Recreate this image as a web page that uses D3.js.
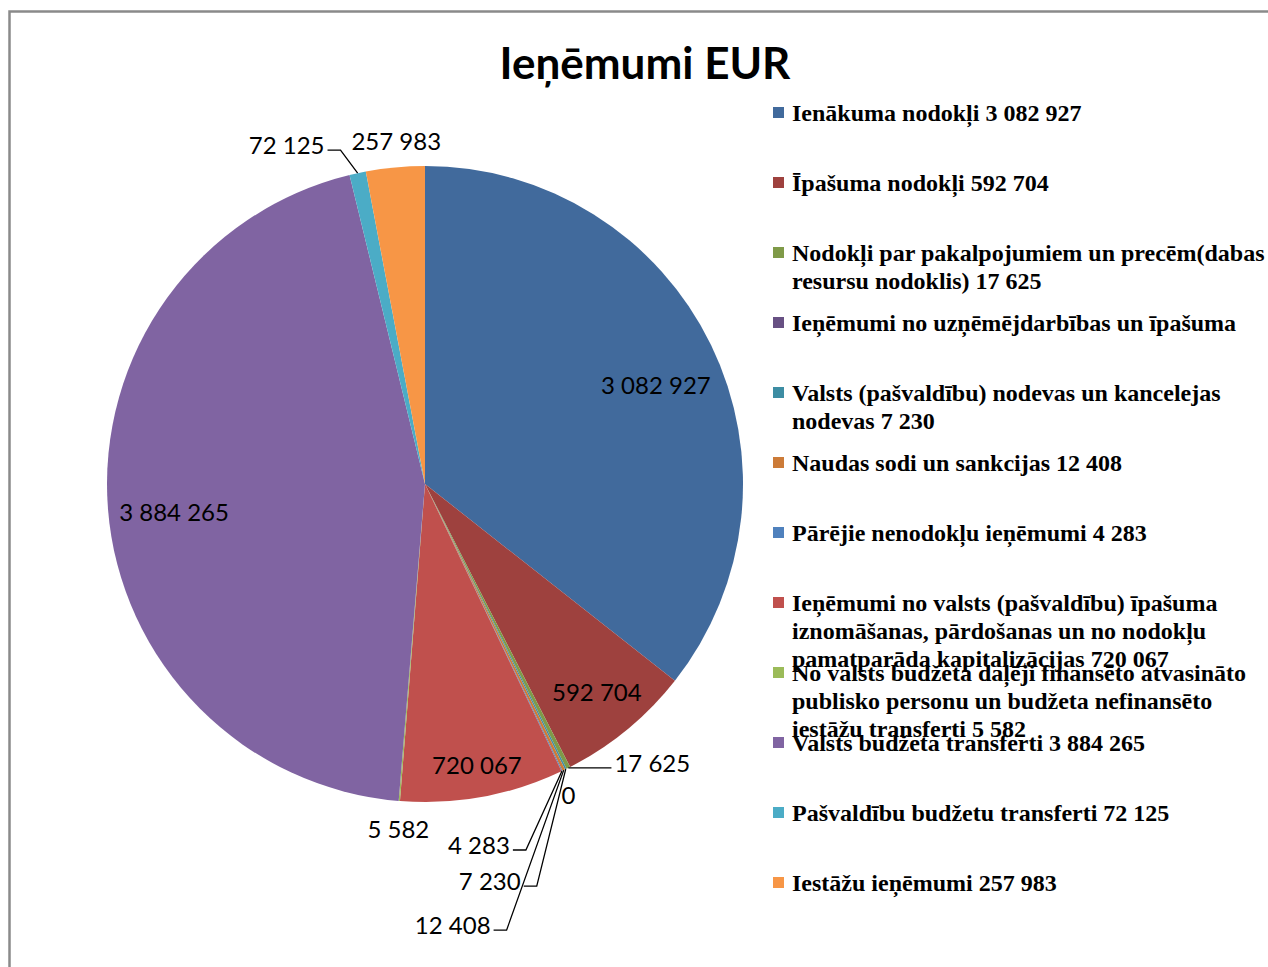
<!DOCTYPE html>
<html>
<head>
<meta charset="utf-8">
<script src="https://cdn.jsdelivr.net/npm/d3@7"></script>
<style>
  html, body { margin: 0; padding: 0; background: #fff; overflow: hidden; }
  svg { display: block; }
</style>
</head>
<body>
<svg id="chart" width="1268" height="967"></svg>
<script>
// ---- DATA ----
const title = "Ieņēmumi EUR";
const categories = [
  "Ienākuma nodokļi",
  "Īpašuma nodokļi",
  "Nodokļi par pakalpojumiem un precēm(dabas resursu nodoklis)",
  "Ieņēmumi no uzņēmējdarbības un īpašuma",
  "Valsts (pašvaldību) nodevas un kancelejas nodevas",
  "Naudas sodi un sankcijas",
  "Pārējie nenodokļu ieņēmumi",
  "Ieņēmumi no valsts (pašvaldību) īpašuma iznomāšanas, pārdošanas un no nodokļu pamatparāda kapitalizācijas",
  "No valsts budžeta daļēji finansēto atvasināto publisko personu un budžeta nefinansēto iestāžu transferti",
  "Valsts budžeta transferti",
  "Pašvaldību budžetu transferti",
  "Iestāžu ieņēmumi"
];
const values = [3082927, 592704, 17625, 0, 7230, 12408, 4283, 720067, 5582, 3884265, 72125, 257983];
const legendLines = [
  ["Ienākuma nodokļi 3 082 927"],
  ["Īpašuma nodokļi 592 704"],
  ["Nodokļi par pakalpojumiem un precēm(dabas", "resursu nodoklis) 17 625"],
  ["Ieņēmumi no uzņēmējdarbības un īpašuma"],
  ["Valsts (pašvaldību) nodevas un kancelejas", "nodevas 7 230"],
  ["Naudas sodi un sankcijas 12 408"],
  ["Pārējie nenodokļu ieņēmumi 4 283"],
  ["Ieņēmumi no valsts (pašvaldību) īpašuma", "iznomāšanas, pārdošanas un no nodokļu", "pamatparāda kapitalizācijas 720 067"],
  ["No valsts budžeta daļēji finansēto atvasināto", "publisko personu un budžeta nefinansēto", "iestāžu transferti 5 582"],
  ["Valsts budžeta transferti 3 884 265"],
  ["Pašvaldību budžetu transferti 72 125"],
  ["Iestāžu ieņēmumi 257 983"]
];
const colors = ["#416A9C", "#9E413E", "#7F9A48", "#675083", "#3D8DA3", "#CC7B38",
                "#4F81BD", "#C0504D", "#9BBB59", "#8064A2", "#4BACC6", "#F79646"];

// ---- LABEL LAYOUT (Excel best-fit placement) ----
// inside: polar k (fraction of radius) and angle adjust (deg); outside: offset from slice edge point
const labelLayout = [
  {type: "in", k: 0.79, da: 2.7},
  {type: "in", k: 0.85, da: 0},
  {type: "out", dx: 84, dy: -5, leader: true},
  {type: "out", dx: 2, dy: 27, leader: false},
  {type: "out", dx: -76, dy: 112, leader: true},
  {type: "out", dx: -111, dy: 155, leader: true},
  {type: "out", dx: -83, dy: 74, leader: true},
  {type: "in", k: 0.9, da: 0},
  {type: "out", dx: -1, dy: 28, leader: false},
  {type: "in", k: 0.794, da: -1.9},
  {type: "out", dx: -71, dy: -28, leader: true},
  {type: "out", dx: 1, dy: -26, leader: false}
];

// ---- CHART ----
const svg = d3.select("#chart");
const cx = 425, cy = 484, R = 318;

const locale = d3.formatLocale({decimal: ",", thousands: " ", grouping: [3], currency: ["", ""]});
const fmt = locale.format(",d");

// frame
svg.append("rect")
  .attr("x", 9.5).attr("y", 11.5)
  .attr("width", 1400).attr("height", 1100)
  .attr("fill", "#fff").attr("stroke", "#8a8a8a").attr("stroke-width", 2.5);

// title
svg.append("text")
  .attr("x", 645).attr("y", 79)
  .attr("text-anchor", "middle")
  .attr("font-family", "Lato, 'Open Sans', sans-serif")
  .attr("font-weight", "bold")
  .attr("font-size", 44)
  .attr("fill", "#000")
  .text(title);

const pie = d3.pie().sort(null).value(d => d)(values);
const arc = d3.arc().innerRadius(0).outerRadius(R);

const g = svg.append("g").attr("transform", `translate(${cx},${cy})`);

g.selectAll("path.slice")
  .data(pie)
  .join("path")
  .attr("class", "slice")
  .attr("d", arc)
  .attr("fill", (d, i) => colors[i]);

// labels
const labelFont = "Lato, 'Open Sans', sans-serif";
const polar = (a, r) => [r * Math.sin(a), -r * Math.cos(a)];

pie.forEach((d, i) => {
  const L = labelLayout[i];
  const mid = (d.startAngle + d.endAngle) / 2;
  let lx, ly;
  if (L.type === "in") {
    [lx, ly] = polar(mid + L.da * Math.PI / 180, R * L.k);
  } else {
    const [ex, ey] = polar(mid, R);
    lx = ex + L.dx; ly = ey + L.dy;
  }
  const t = g.append("text")
    .attr("x", lx).attr("y", ly)
    .attr("dy", "0.36em")
    .attr("text-anchor", "middle")
    .attr("font-family", labelFont)
    .attr("font-size", 24)
    .attr("fill", "#000")
    .text(fmt(d.data));
  if (L.type === "out" && L.leader) {
    const bb = t.node().getBBox();
    const [ex, ey] = polar(mid, R);
    const yL = ly + 5;
    let x0, x1;
    if (ex > lx) { x0 = bb.x + bb.width + 3; x1 = x0 + 13; }
    else { x0 = bb.x - 3; x1 = x0 - 13; }
    g.append("path")
      .attr("d", d3.line()([[x0, yL], [x1, yL], [ex, ey]]))
      .attr("fill", "none")
      .attr("stroke", "#000")
      .attr("stroke-width", 1.3);
  }
});

// legend
const legend = svg.append("g");
const legX = 773, legY0 = 121, legStep = 70, lineH = 28;
legendLines.forEach((lines, i) => {
  const y = legY0 + i * legStep;
  legend.append("rect")
    .attr("x", legX).attr("y", y - 14)
    .attr("width", 11).attr("height", 11)
    .attr("fill", colors[i]);
  const t = legend.append("text")
    .attr("x", legX + 19).attr("y", y)
    .attr("font-family", "'Liberation Serif', 'Times New Roman', serif")
    .attr("font-weight", "bold")
    .attr("font-size", 24)
    .attr("fill", "#000");
  lines.forEach((ln, j) => {
    t.append("tspan").attr("x", legX + 19).attr("y", y + j * lineH).text(ln);
  });
});
</script>
</body>
</html>
